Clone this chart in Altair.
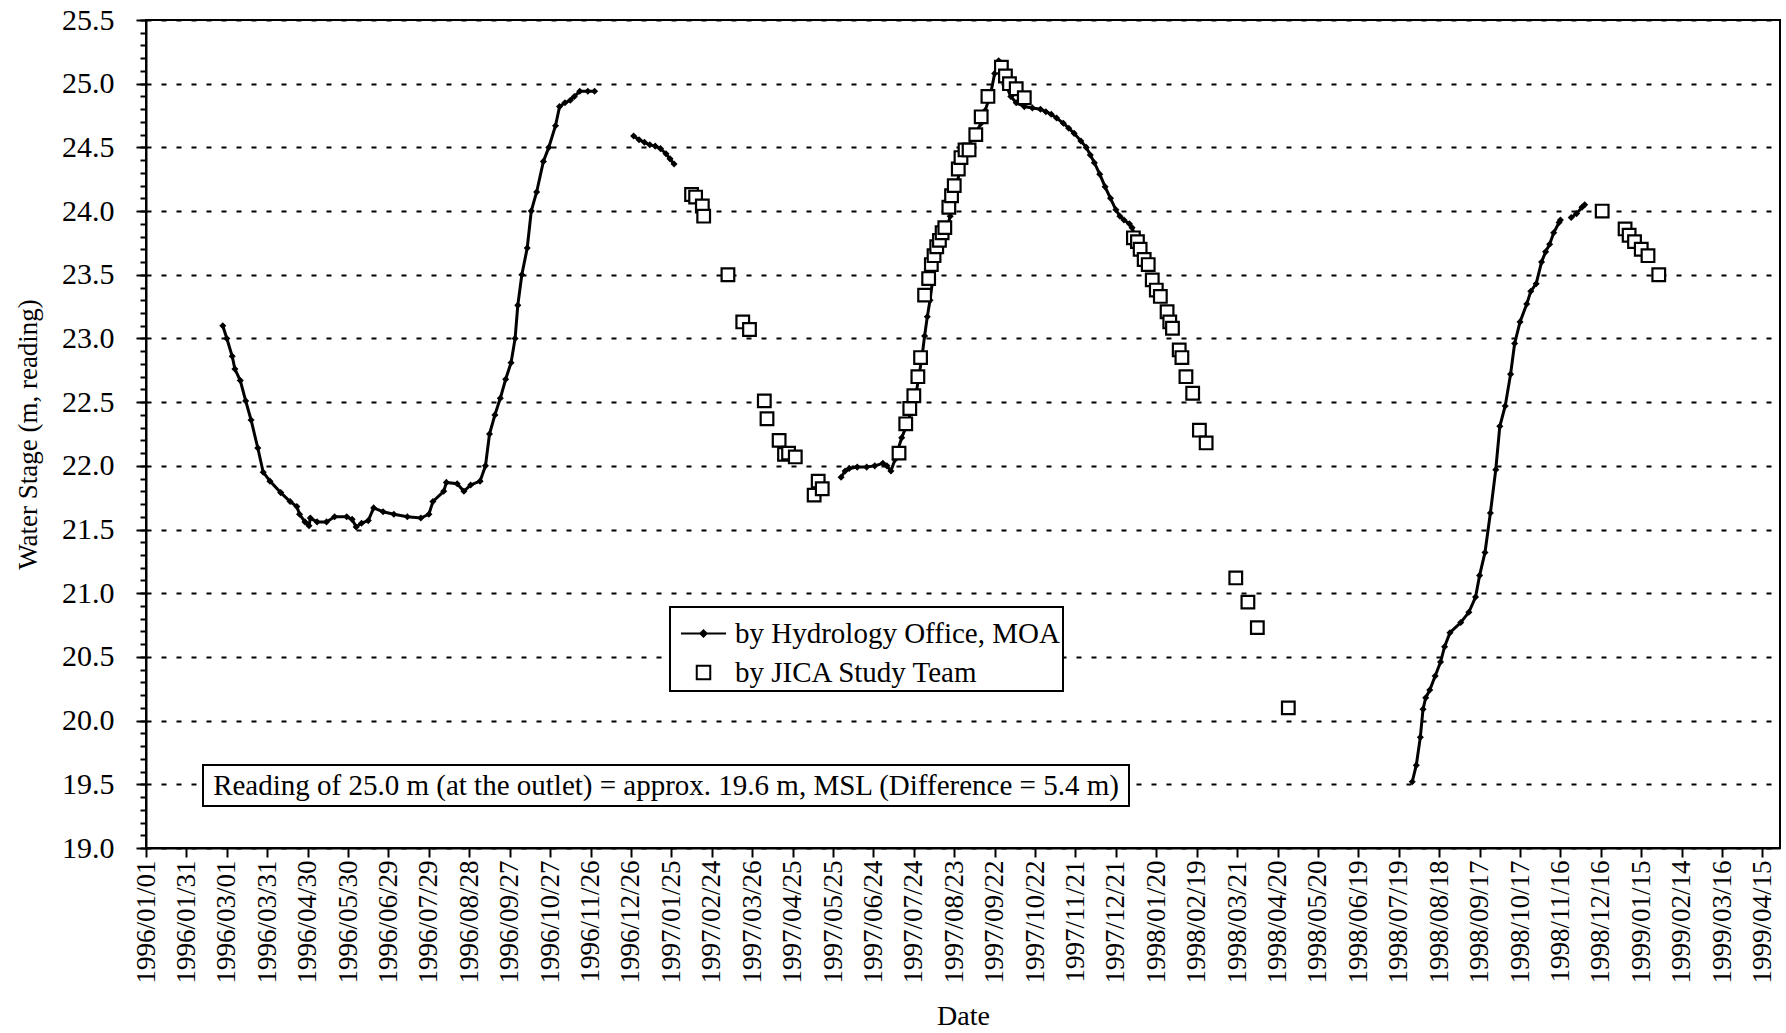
import altair as alt
import pandas as pd

FONT = "Liberation Serif"
MOA = "by Hydrology Office, MOA"
JICA = "by JICA Study Team"
NOTE = "Reading of 25.0 m (at the outlet) = approx. 19.6 m, MSL (Difference = 5.4 m)"

# x-axis tick labels (every 30 days)
tick_labels = [
    "1996/01/01", "1996/01/31", "1996/03/01", "1996/03/31", "1996/04/30", "1996/05/30",
    "1996/06/29", "1996/07/29", "1996/08/28", "1996/09/27", "1996/10/27", "1996/11/26",
    "1996/12/26", "1997/01/25", "1997/02/24", "1997/03/26", "1997/04/25", "1997/05/25",
    "1997/06/24", "1997/07/24", "1997/08/23", "1997/09/22", "1997/10/22", "1997/11/21",
    "1997/12/21", "1998/01/20", "1998/02/19", "1998/03/21", "1998/04/20", "1998/05/20",
    "1998/06/19", "1998/07/19", "1998/08/18", "1998/09/17", "1998/10/17", "1998/11/16",
    "1998/12/16", "1999/01/15", "1999/02/14", "1999/03/16", "1999/04/15",
]
y_major_ticks = [19.0, 19.5, 20.0, 20.5, 21.0, 21.5, 22.0, 22.5, 23.0, 23.5, 24.0, 24.5, 25.0, 25.5]
y_minor_ticks = [round(19.0 + 0.1 * i, 1) for i in range(66)]

# ---- Hydrology Office, MOA (daily readings, line) ----
moa_1996_dates = [
    "1996-02-27", "1996-03-01", "1996-03-05", "1996-03-07", "1996-03-11", "1996-03-15",
    "1996-03-19", "1996-03-24", "1996-03-28", "1996-04-02", "1996-04-10", "1996-04-17",
    "1996-04-22", "1996-04-24", "1996-04-28", "1996-05-01", "1996-05-02", "1996-05-07",
    "1996-05-14", "1996-05-20", "1996-05-29", "1996-06-02", "1996-06-05", "1996-06-09",
    "1996-06-14", "1996-06-18", "1996-06-25", "1996-07-03", "1996-07-13", "1996-07-23",
    "1996-07-29", "1996-08-01", "1996-08-09", "1996-08-11", "1996-08-19", "1996-08-24",
    "1996-08-29", "1996-09-05", "1996-09-09", "1996-09-12", "1996-09-16", "1996-09-20",
    "1996-09-24", "1996-09-28", "1996-10-01", "1996-10-03", "1996-10-06", "1996-10-10",
    "1996-10-13", "1996-10-17", "1996-10-22", "1996-10-26", "1996-10-31", "1996-11-03",
    "1996-11-07", "1996-11-11", "1996-11-14", "1996-11-18", "1996-11-24", "1996-11-29",
]
moa_1996_vals = [
    23.10, 23.00, 22.86, 22.76, 22.67, 22.51, 22.36, 22.14, 21.95, 21.88, 21.79, 21.72,
    21.68, 21.62, 21.56, 21.53, 21.59, 21.56, 21.56, 21.60, 21.60, 21.58, 21.52, 21.55,
    21.57, 21.67, 21.64, 21.62, 21.60, 21.59, 21.62, 21.72, 21.80, 21.87, 21.86, 21.80,
    21.85, 21.88, 22.00, 22.25, 22.40, 22.53, 22.68, 22.81, 23.00, 23.26, 23.50, 23.71,
    24.00, 24.15, 24.39, 24.50, 24.67, 24.82, 24.85, 24.87, 24.90, 24.94, 24.94, 24.94,
]
moa_9697_dates = ["1996-12-28", "1997-01-01", "1997-01-05", "1997-01-09", "1997-01-13",
                  "1997-01-17", "1997-01-21", "1997-01-24", "1997-01-27"]
moa_9697_vals = [24.59, 24.56, 24.54, 24.52, 24.51, 24.49, 24.45, 24.41, 24.37]
moa_1997_dates = [
    "1997-05-31", "1997-06-03", "1997-06-06", "1997-06-12", "1997-06-19", "1997-06-25",
    "1997-07-01", "1997-07-04", "1997-07-07", "1997-07-10", "1997-07-12", "1997-07-15",
    "1997-07-18", "1997-07-22", "1997-07-25", "1997-07-28", "1997-07-30", "1997-08-01",
    "1997-08-03", "1997-08-05", "1997-08-07", "1997-08-10", "1997-08-14", "1997-08-17",
    "1997-08-20", "1997-08-22", "1997-08-24", "1997-08-27", "1997-08-31", "1997-09-06",
    "1997-09-12", "1997-09-15", "1997-09-19", "1997-09-22", "1997-09-25", "1997-09-27",
    "1997-09-30", "1997-10-04", "1997-10-08", "1997-10-14", "1997-10-20", "1997-10-26",
    "1997-10-30", "1997-11-03", "1997-11-07", "1997-11-12", "1997-11-16", "1997-11-20",
    "1997-11-25", "1997-11-29", "1997-12-02", "1997-12-05", "1997-12-09", "1997-12-13",
    "1997-12-17", "1997-12-21", "1997-12-24", "1997-12-27", "1997-12-31", "1998-01-02",
    "1998-01-05", "1998-01-08", "1998-01-11", "1998-01-15",
]
moa_1997_vals = [
    21.91, 21.96, 21.98, 21.99, 21.99, 22.00, 22.02, 22.00, 21.96, 22.05, 22.12, 22.22,
    22.30, 22.42, 22.52, 22.72, 22.85, 23.02, 23.17, 23.30, 23.46, 23.62, 23.77, 23.84,
    23.96, 24.09, 24.14, 24.32, 24.45, 24.58, 24.69, 24.79, 24.92, 25.08, 25.18, 25.16,
    25.00, 24.90, 24.85, 24.82, 24.81, 24.80, 24.78, 24.76, 24.73, 24.69, 24.65, 24.61,
    24.55, 24.50, 24.44, 24.38, 24.29, 24.19, 24.10, 24.01, 23.96, 23.93, 23.90, 23.87,
    23.78, 23.72, 23.64, 23.56,
]
moa_1998_dates = [
    "1998-07-29", "1998-08-01", "1998-08-04", "1998-08-06", "1998-08-08", "1998-08-11",
    "1998-08-15", "1998-08-19", "1998-08-22", "1998-08-26", "1998-09-03", "1998-09-09",
    "1998-09-14", "1998-09-17", "1998-09-21", "1998-09-25", "1998-09-29", "1998-10-02",
    "1998-10-06", "1998-10-10", "1998-10-13", "1998-10-17", "1998-10-22", "1998-10-25",
    "1998-10-29", "1998-11-02", "1998-11-05", "1998-11-08", "1998-11-11", "1998-11-15",
    "1998-11-16",
]
moa_1998_vals = [
    19.52, 19.65, 19.87, 20.09, 20.18, 20.24, 20.35, 20.46, 20.58, 20.69, 20.77, 20.85,
    20.97, 21.14, 21.32, 21.63, 21.97, 22.31, 22.47, 22.72, 22.96, 23.13, 23.27, 23.37,
    23.43, 23.60, 23.68, 23.74, 23.83, 23.91, 23.93,
]
moa_9812_dates = ["1998-11-24", "1998-11-28", "1998-12-02", "1998-12-04"]
moa_9812_vals = [23.95, 23.98, 24.03, 24.05]

# ---- JICA Study Team (spot readings, open squares) ----
jica_1997a_dates = ["1997-02-09", "1997-02-12", "1997-02-17", "1997-02-18", "1997-03-08",
                    "1997-03-19", "1997-03-24", "1997-04-04", "1997-04-06", "1997-04-15",
                    "1997-04-19", "1997-04-22", "1997-04-27", "1997-05-11", "1997-05-14",
                    "1997-05-17"]
jica_1997a_vals = [24.13, 24.11, 24.04, 23.96, 23.50, 23.13, 23.07, 22.51, 22.37, 22.20,
                   22.09, 22.10, 22.07, 21.77, 21.88, 21.82]
jica_1997b_dates = ["1997-07-13", "1997-07-18", "1997-07-21", "1997-07-24", "1997-07-27",
                    "1997-07-29", "1997-08-01", "1997-08-04", "1997-08-06", "1997-08-08",
                    "1997-08-10", "1997-08-12", "1997-08-14", "1997-08-16", "1997-08-19",
                    "1997-08-21", "1997-08-23", "1997-08-26", "1997-08-28", "1997-08-31",
                    "1997-09-03", "1997-09-08", "1997-09-12", "1997-09-17", "1997-09-27",
                    "1997-09-30", "1997-10-03", "1997-10-08", "1997-10-14"]
jica_1997b_vals = [22.10, 22.33, 22.45, 22.55, 22.70, 22.85, 23.34, 23.47, 23.58, 23.65,
                   23.72, 23.77, 23.83, 23.87, 24.03, 24.12, 24.20, 24.33, 24.42, 24.48,
                   24.48, 24.60, 24.74, 24.90, 25.13, 25.06, 25.00, 24.96, 24.89]
jica_1998_dates = ["1998-01-03", "1998-01-06", "1998-01-08", "1998-01-11", "1998-01-14",
                   "1998-01-17", "1998-01-20", "1998-01-23", "1998-01-28", "1998-01-30",
                   "1998-02-01", "1998-02-06", "1998-02-08", "1998-02-11", "1998-02-16",
                   "1998-02-21", "1998-02-26", "1998-03-20", "1998-03-29", "1998-04-05",
                   "1998-04-28"]
jica_1998_vals = [23.79, 23.76, 23.70, 23.62, 23.58, 23.46, 23.38, 23.33, 23.21, 23.13,
                  23.08, 22.91, 22.85, 22.70, 22.57, 22.28, 22.18, 21.12, 20.93, 20.73,
                  20.10]
jica_1999_dates = ["1998-12-17", "1999-01-03", "1999-01-06", "1999-01-10", "1999-01-15",
                   "1999-01-20", "1999-01-28"]
jica_1999_vals = [24.00, 23.86, 23.81, 23.76, 23.70, 23.65, 23.50]

# ---- tables ----
moa_parts = []
for seg, (d, v) in enumerate([(moa_1996_dates, moa_1996_vals), (moa_9697_dates, moa_9697_vals),
                              (moa_1997_dates, moa_1997_vals), (moa_1998_dates, moa_1998_vals),
                              (moa_9812_dates, moa_9812_vals)]):
    moa_parts.append(pd.DataFrame({"date": d, "stage": v, "seg": seg, "series": MOA}))
moa_df = pd.concat(moa_parts, ignore_index=True)

jica_parts = []
for d, v in [(jica_1997a_dates, jica_1997a_vals), (jica_1997b_dates, jica_1997b_vals),
             (jica_1998_dates, jica_1998_vals), (jica_1999_dates, jica_1999_vals)]:
    jica_parts.append(pd.DataFrame({"date": d, "stage": v, "seg": -1, "series": JICA}))
jica_df = pd.concat(jica_parts, ignore_index=True)
all_df = pd.concat([moa_df, jica_df], ignore_index=True)


def dt(label):
    y, m, d = (int(p) for p in label.split("/"))
    return alt.DateTime(year=y, month=m, date=d, utc=True)


x_scale = alt.Scale(type="utc", domain=[alt.DateTime(year=1996, month=1, date=1, utc=True),
                                        alt.DateTime(year=1999, month=4, date=28, utc=True)])
y_scale = alt.Scale(domain=[19.0, 25.5], nice=False, zero=False)

x_axis = alt.Axis(
    values=[dt(t) for t in tick_labels], orient="bottom",
    labelExpr="utcFormat(datum.value, '%Y/%m/%d')",
    labelAngle=270, labelFontSize=27, labelPadding=3, labelOverlap=False,
    tickSize=9, tickWidth=2, domainWidth=2, grid=False,
    title="Date", titleFontSize=28, titleFontWeight="normal",
    titleY=168, titleBaseline="middle",
)
y_axis_major = alt.Axis(
    values=y_major_ticks, format=".1f", orient="left",
    labelFontSize=30, labelPadding=22, tickSize=10, tickWidth=2, domainWidth=2,
    grid=True, gridDash=[5, 10], gridColor="black", gridWidth=2, gridOpacity=1,
    title="Water Stage (m, reading)", titleFontSize=27, titleFontWeight="normal",
    titleX=-118, titleY=414, titleBaseline="middle",
)
y_axis_minor = alt.Axis(
    values=y_minor_ticks, orient="left", labels=False, domain=False, grid=False,
    tickSize=6, tickWidth=2, title=None,
)

# identical x axis definition on every layer so the shared axis merges cleanly
x_enc = alt.X("date:T", scale=x_scale, axis=x_axis)
y_none = alt.Y("stage:Q", scale=y_scale, axis=None)

line = alt.Chart(moa_df).mark_line(color="black", strokeWidth=3).encode(
    x=x_enc, y=alt.Y("stage:Q", scale=y_scale, axis=y_axis_major), detail="seg:N"
)
diamonds = alt.Chart(moa_df).mark_point(
    shape="diamond", filled=True, color="black", size=50, opacity=1
).encode(x=x_enc, y=alt.Y("stage:Q", scale=y_scale, axis=y_axis_minor))
squares = alt.Chart(jica_df).mark_point(
    shape="square", filled=True, fill="white", stroke="black", strokeWidth=2.2, size=160, opacity=1
).encode(x=x_enc, y=y_none)

series_domain = [MOA, JICA]
legend = alt.Legend(
    orient="none", legendX=524, legendY=587, title=None,
    labelFont=FONT, labelFontSize=29, labelColor="black", labelOffset=8, labelLimit=0,
    symbolOffset=7, symbolStrokeWidth=2, symbolOpacity=1, symbolSize=2025,
    padding=3, rowPadding=0,
)
legend_layer = alt.Chart(all_df).mark_point(opacity=0, filled=True, size=2025).encode(
    x=x_enc, y=y_none,
    shape=alt.Shape("series:N", scale=alt.Scale(
        domain=series_domain,
        range=["M-1,0L1,0M-0.14,0L0,-0.14L0.14,0L0,0.14Z",
               "M-0.3,-0.3L0.3,-0.3L0.3,0.3L-0.3,0.3Z"]), legend=legend),
    fill=alt.Fill("series:N", scale=alt.Scale(domain=series_domain, range=["black", "white"]),
                  legend=legend),
    stroke=alt.Stroke("series:N", scale=alt.Scale(domain=series_domain, range=["black", "black"]),
                      legend=legend),
)

note_df = pd.DataFrame({"note": [NOTE]})
note_box = alt.Chart(note_df).mark_rect(fill="white", stroke="black", strokeWidth=2).encode(
    x=alt.value(57), x2=alt.value(983), y=alt.value(745), y2=alt.value(786)
)
note_text = alt.Chart(note_df).mark_text(
    font=FONT, fontSize=29, align="center", baseline="middle", color="black"
).encode(x=alt.value(520), y=alt.value(766), text="note:N")

chart = alt.layer(line, diamonds, squares, legend_layer, note_box, note_text).resolve_axis(
    y="independent"
).properties(
    width=1634, height=828,
    padding={"left": 146, "top": 20, "right": 6, "bottom": 185},
    autosize=alt.AutoSizeParams(type="none"),
    background="white",
).configure_view(
    stroke="black", strokeWidth=2
).configure_axis(
    labelFont=FONT, titleFont=FONT, labelColor="black", titleColor="black",
    domainColor="black", tickColor="black",
).configure_legend(
    fillColor="white", strokeColor="black", strokeWidth=2,
)

chart.save("out.html", embed_options={"renderer": "svg", "actions": False})
